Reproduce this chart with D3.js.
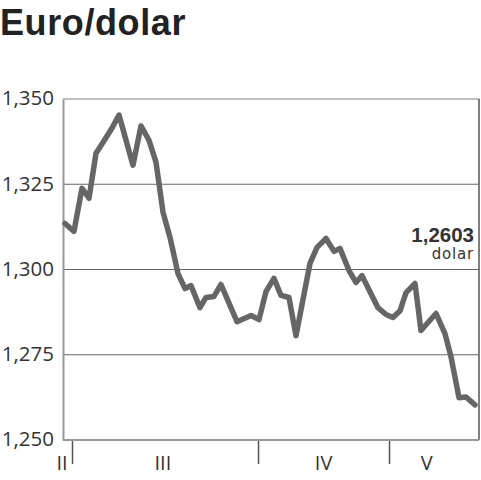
<!DOCTYPE html>
<html><head><meta charset="utf-8">
<script src="https://cdn.jsdelivr.net/npm/d3@7"></script>
<style>body{margin:0;background:#fff}svg{display:block}</style>
</head><body>
<script>
// ---- data ----
const title = "Euro/dolar";
const days = [0,1.36,2.57,3.63,4.69,6.05,7.11,8.17,10.28,11.49,12.70,13.76,14.82,15.88,17.09,18.15,19.05,20.41,21.32,22.53,23.59,26.01,28.13,29.34,30.39,31.60,32.66,33.87,34.93,37.05,38.11,39.47,40.68,41.58,42.95,44.00,44.91,46.12,47.33,48.54,49.60,50.66,51.57,52.93,53.83,56.10,57.46,58.37,59.58,60.64,62];
const rates = [1.3135,1.3112,1.3238,1.3209,1.3341,1.3382,1.3415,1.3453,1.3306,1.3421,1.3379,1.3315,1.3168,1.3094,1.2988,1.2944,1.2953,1.2888,1.2918,1.2921,1.2956,1.2847,1.2865,1.2853,1.2935,1.2974,1.2924,1.2918,1.2806,1.3018,1.3065,1.3091,1.3053,1.3062,1.2997,1.2962,1.2982,1.2935,1.2888,1.2868,1.2859,1.2879,1.2932,1.2959,1.2821,1.2871,1.2812,1.2744,1.2624,1.2626,1.2603];
const yTicks = [1.250,1.275,1.300,1.325,1.350];
const yTickLabels = ["1,250","1,275","1,300","1,325","1,350"];
const monthBounds = [1.06,29.19,49.0];
const monthLabels = ["II","III","IV","V"];
const monthLabelPos = [-0.45,14.8,39.1,54.7];
const lastValueLabel = "1,2603";
const unitLabel = "dolar";

// ---- chart ----
const W=481,H=480;
const pLeft=63,pRight=479,pTop=99,pBottom=440;
const svg=d3.select("body").append("svg").attr("width",W).attr("height",H);
const x=d3.scaleLinear().domain([0,62]).range([65,475]);
const y=d3.scaleLinear().domain([1.25,1.35]).range([pBottom,pTop]);

svg.append("text").attr("x",0).attr("y",35).text(title)
  .attr("font-family","Liberation Sans, Arial, sans-serif").attr("font-weight","bold")
  .attr("font-size",36).attr("fill","#222").attr("letter-spacing","0.6");

// gridlines
svg.append("g").selectAll("line").data(yTicks.filter(t=>t>1.25&&t<1.35)).join("line")
  .attr("x1",pLeft).attr("x2",pRight).attr("y1",d=>y(d)).attr("y2",d=>y(d))
  .attr("stroke","#666").attr("stroke-width",1.2);
// top border
svg.append("line").attr("x1",pLeft).attr("x2",pRight).attr("y1",y(1.35)).attr("y2",y(1.35))
  .attr("stroke","#aaa").attr("stroke-width",1.5);
// right border
svg.append("line").attr("x1",pRight).attr("x2",pRight).attr("y1",pTop).attr("y2",pBottom)
  .attr("stroke","#555").attr("stroke-width",1.5);

// y axis
const yAxis=d3.axisLeft(y).tickValues(yTicks).tickSize(0).tickPadding(9)
  .tickFormat((d,i)=>yTickLabels[i]);
const ya=svg.append("g").attr("transform",`translate(${pLeft},0)`).call(yAxis);
ya.select(".domain").attr("stroke","#999").attr("stroke-width",2);
ya.selectAll("text").attr("font-family","Open Sans, sans-serif").attr("font-size",20.5)
  .attr("fill","#333").attr("dy","0.28em");

// x axis
const xAxis=d3.axisBottom(x).tickValues(monthBounds).tickSize(24).tickFormat("");
const xa=svg.append("g").attr("transform",`translate(0,${pBottom})`).call(xAxis);
xa.select(".domain").remove();
xa.selectAll("line").attr("stroke","#555").attr("stroke-width",1.5);
svg.append("line").attr("x1",pLeft).attr("x2",pRight).attr("y1",pBottom).attr("y2",pBottom)
  .attr("stroke","#999").attr("stroke-width",2);
svg.append("g").selectAll("text").data(monthLabels).join("text")
  .attr("x",(d,i)=>x(monthLabelPos[i])).attr("y",470).attr("text-anchor","middle")
  .attr("font-family","Open Sans, sans-serif").attr("font-size",20).attr("fill","#333").text(d=>d);

// line
const pts=days.map((d,i)=>[d,rates[i]]);
svg.append("path").datum(pts)
  .attr("d",d3.line().x(d=>x(d[0])).y(d=>y(d[1])))
  .attr("fill","none").attr("stroke","#666").attr("stroke-width",5.5)
  .attr("stroke-linejoin","round").attr("stroke-linecap","round");

// annotation
svg.append("text").attr("x",474).attr("y",242).attr("text-anchor","end")
  .attr("font-family","Liberation Sans, Arial, sans-serif").attr("font-weight","bold")
  .attr("font-size",20.5).attr("fill","#333").text(lastValueLabel);
svg.append("text").attr("x",474).attr("y",259).attr("text-anchor","end")
  .attr("font-family","DejaVu Sans, sans-serif").attr("font-size",15).attr("letter-spacing","0.8")
  .attr("fill","#333").text(unitLabel);
</script>
</body></html>
